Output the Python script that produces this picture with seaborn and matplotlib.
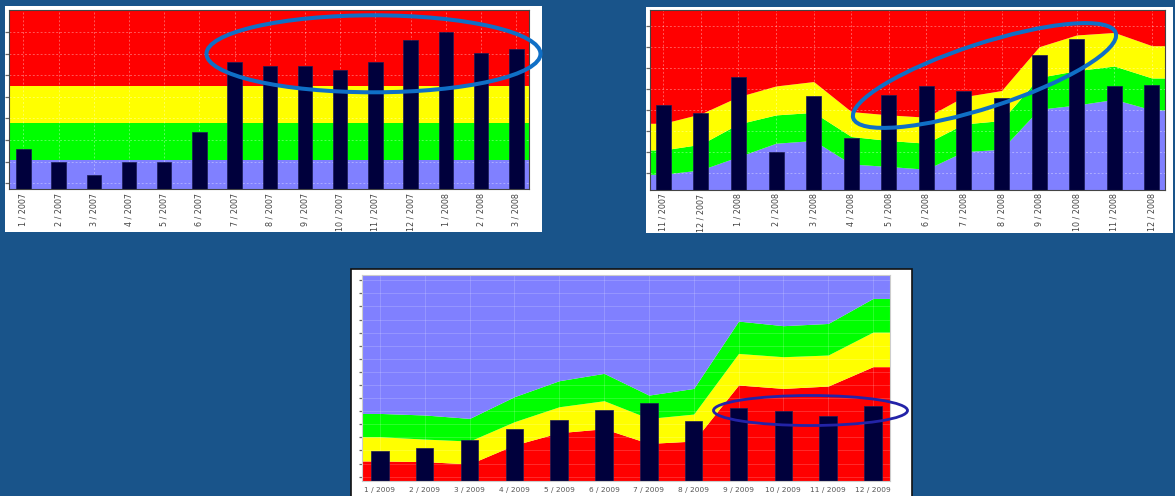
import numpy as np
import pandas as pd
import matplotlib
matplotlib.use("Agg")
import matplotlib.pyplot as plt
import seaborn as sns
from matplotlib.patches import Ellipse, Rectangle

sns.set_theme(style="white")
plt.rcParams['font.family'] = ['DejaVu Sans']

# ---------------- data (heights measured from the axis baseline) ----------------
# Panel 1 (top left): fixed bands
months_1 = ["1 / 2007", "2 / 2007", "3 / 2007", "4 / 2007", "5 / 2007", "6 / 2007",
            "7 / 2007", "8 / 2007", "9 / 2007", "10 / 2007", "11 / 2007", "12 / 2007",
            "1 / 2008", "2 / 2008", "3 / 2008"]
bars_1 = [1.88, 1.28, 0.68, 1.28, 1.28, 2.67, 5.9, 5.71, 5.71, 5.51, 5.9, 6.9, 7.28, 6.3, 6.48]
blue_top_1 = 1.37
green_top_1 = 3.06
yellow_top_1 = 4.77

# Panel 2 (top right): moving bands
months_2 = ["11 / 2007", "12 / 2007", "1 / 2008", "2 / 2008", "3 / 2008", "4 / 2008",
            "5 / 2008", "6 / 2008", "7 / 2008", "8 / 2008", "9 / 2008", "10 / 2008",
            "11 / 2008", "12 / 2008"]
bars_2 = [4.05, 3.65, 5.4, 1.8, 4.5, 2.5, 4.55, 4.95, 4.7, 4.4, 6.45, 7.2, 4.95, 5.0]
blue_top_2 = [0.75, 0.96, 1.59, 2.23, 2.36, 1.24, 1.12, 0.99, 1.83, 1.94, 3.85, 4.05, 4.32, 3.82]
green_top_2 = [1.91, 2.18, 3.15, 3.58, 3.70, 2.55, 2.36, 2.23, 3.15, 3.31, 5.37, 5.69, 5.91, 5.34]
yellow_top_2 = [3.18, 3.63, 4.45, 4.96, 5.17, 3.74, 3.58, 3.47, 4.45, 4.74, 6.83, 7.39, 7.51, 6.88]

# Panel 3 (bottom): inverted bands
months_3 = ["1 / 2009", "2 / 2009", "3 / 2009", "4 / 2009", "5 / 2009", "6 / 2009",
            "7 / 2009", "8 / 2009", "9 / 2009", "10 / 2009", "11 / 2009", "12 / 2009"]
bars_3 = [2.29, 2.54, 3.13, 3.97, 4.68, 5.44, 5.93, 4.60, 5.57, 5.32, 4.99, 5.72]
red_top_3 = [1.53, 1.48, 1.30, 2.75, 3.69, 3.99, 2.87, 3.05, 7.33, 7.07, 7.25, 8.73]
yellow_top_3 = [3.38, 3.20, 3.05, 4.53, 5.67, 6.13, 4.78, 5.11, 9.74, 9.49, 9.62, 11.37]
green_top_3 = [5.16, 5.04, 4.78, 6.44, 7.66, 8.22, 6.56, 7.07, 12.21, 11.86, 12.03, 13.94]

# ---------------- style ----------------
BG = "#19548a"
RED, YEL, GRN, BLU = "#ff0000", "#ffff00", "#00ff00", "#8080ff"
BAR = "#00003c"

W, H = 1175, 496
fig = plt.figure(figsize=(W / 100, H / 100), dpi=100)
fig.patch.set_facecolor(BG)


def rect(l, r, t, b):
    return [l / W, 1 - b / H, (r - l) / W, (b - t) / H]


# background layer (white boxes)
bg = fig.add_axes([0, 0, 1, 1], zorder=0)
bg.set_xlim(0, W)
bg.set_ylim(H, 0)
bg.axis("off")
bg.add_patch(Rectangle((5, 6), 537, 226, facecolor="white", edgecolor="none"))
bg.add_patch(Rectangle((646, 6.5), 527, 226, facecolor="white", edgecolor="none"))
bg.add_patch(Rectangle((350.5, 268.5), 561, 240, facecolor="white", edgecolor="#111111", lw=1.2))


def extend(vals, xl):
    xs = [xl[0]] + list(range(len(vals))) + [xl[1]]
    ys = [vals[0]] + list(vals) + [vals[-1]]
    return np.array(xs), np.array(ys)


def style_axes(ax, xl, yl, ticks, rot, fs, tickcol, spinecol, ticklen):
    ax.set_xlim(*xl)
    ax.set_ylim(*yl)
    ax.set_yticks(ticks)
    ax.set_yticklabels([])
    ax.set_xlabel("")
    ax.set_ylabel("")
    ax.set_axisbelow(True)
    ax.grid(True, color="white", alpha=0.35, lw=0.7, linestyle=(0, (2, 2)))
    ax.tick_params(axis="x", labelrotation=rot, labelsize=fs, labelcolor=tickcol,
                   length=0, pad=2.5)
    ax.tick_params(axis="y", length=ticklen, width=0.9, color="#666666", left=True,
                   direction="out")
    for s in ax.spines.values():
        s.set_color(spinecol)
        s.set_linewidth(0.8)
        s.set_visible(True)


# ---------------- panel 1 ----------------
ax1 = fig.add_axes(rect(9, 529, 10, 189.3), zorder=1)
xl1 = (-0.406, 14.36)
yl1 = (0, 8.3)
ax1.axhspan(yl1[0], blue_top_1, color=BLU, zorder=0.2, lw=0)
ax1.axhspan(blue_top_1, green_top_1, color=GRN, zorder=0.2, lw=0)
ax1.axhspan(green_top_1, yellow_top_1, color=YEL, zorder=0.2, lw=0)
ax1.axhspan(yellow_top_1, yl1[1], color=RED, zorder=0.2, lw=0)
df1 = pd.DataFrame({"month": months_1, "value": bars_1})
sns.barplot(data=df1, x="month", y="value", color=BAR, saturation=1, width=0.41,
            errorbar=None, ax=ax1, edgecolor="#1c1c55", linewidth=0.5, zorder=2)
style_axes(ax1, xl1, yl1, np.arange(8) + 0.28, 90, 5.8, "#444444", "#444444", 3)

# ---------------- panel 2 ----------------
ax2 = fig.add_axes(rect(650, 1165, 10, 190), zorder=1)
xl2 = (-0.354, 13.35)
yl2 = (0, 8.58)
xs, b2 = extend(blue_top_2, xl2)
_, g2 = extend(green_top_2, xl2)
_, y2 = extend(yellow_top_2, xl2)
ax2.fill_between(xs, yl2[0], b2, color=BLU, lw=0, zorder=0.2)
ax2.fill_between(xs, b2, g2, color=GRN, lw=0, zorder=0.2)
ax2.fill_between(xs, g2, y2, color=YEL, lw=0, zorder=0.2)
ax2.fill_between(xs, y2, yl2[1], color=RED, lw=0, zorder=0.2)
df2 = pd.DataFrame({"month": months_2, "value": bars_2})
sns.barplot(data=df2, x="month", y="value", color=BAR, saturation=1, width=0.40,
            errorbar=None, ax=ax2, edgecolor="#1c1c55", linewidth=0.5, zorder=2)
style_axes(ax2, xl2, yl2, np.arange(8) + 0.8, 90, 5.8, "#444444", "#444444", 3)

# ---------------- panel 3 ----------------
ax3 = fig.add_axes(rect(362, 890, 275, 481), zorder=1)
xl3 = (-0.40, 11.38)
yl3 = (0, 15.73)
xs3, r3 = extend(red_top_3, xl3)
_, y3 = extend(yellow_top_3, xl3)
_, g3 = extend(green_top_3, xl3)
ax3.fill_between(xs3, yl3[0], r3, color=RED, lw=0, zorder=0.2)
ax3.fill_between(xs3, r3, y3, color=YEL, lw=0, zorder=0.2)
ax3.fill_between(xs3, y3, g3, color=GRN, lw=0, zorder=0.2)
ax3.fill_between(xs3, g3, yl3[1], color=BLU, lw=0, zorder=0.2)
df3 = pd.DataFrame({"month": months_3, "value": bars_3})
sns.barplot(data=df3, x="month", y="value", color=BAR, saturation=1, width=0.39,
            errorbar=None, ax=ax3, edgecolor="#1c1c55", linewidth=0.5, zorder=2)
style_axes(ax3, xl3, yl3, np.arange(16) + 0.33, 0, 5.3, "#555555", "#cccccc", 2.5)
ax3.grid(True, color="white", alpha=0.2, lw=0.6, linestyle="-")
ax3.tick_params(axis="x", pad=4)

# ---------------- highlight ellipses ----------------
ov = fig.add_axes([0, 0, 1, 1], zorder=5)
ov.set_xlim(0, W)
ov.set_ylim(H, 0)
ov.axis("off")
ov.patch.set_alpha(0)
ov.add_patch(Ellipse((373.5, 53.8), 334, 77, angle=0, fill=False,
                     edgecolor="#0f6fc6", lw=2.9))
ov.add_patch(Ellipse((984.5, 75.5), 276, 64, angle=-18, fill=False,
                     edgecolor="#0f6fc6", lw=2.9))
ov.add_patch(Ellipse((810.5, 410.5), 194, 30, angle=0, fill=False,
                     edgecolor="#2323a8", lw=2.0))

fig.savefig("out.png", dpi=100, facecolor=BG)
